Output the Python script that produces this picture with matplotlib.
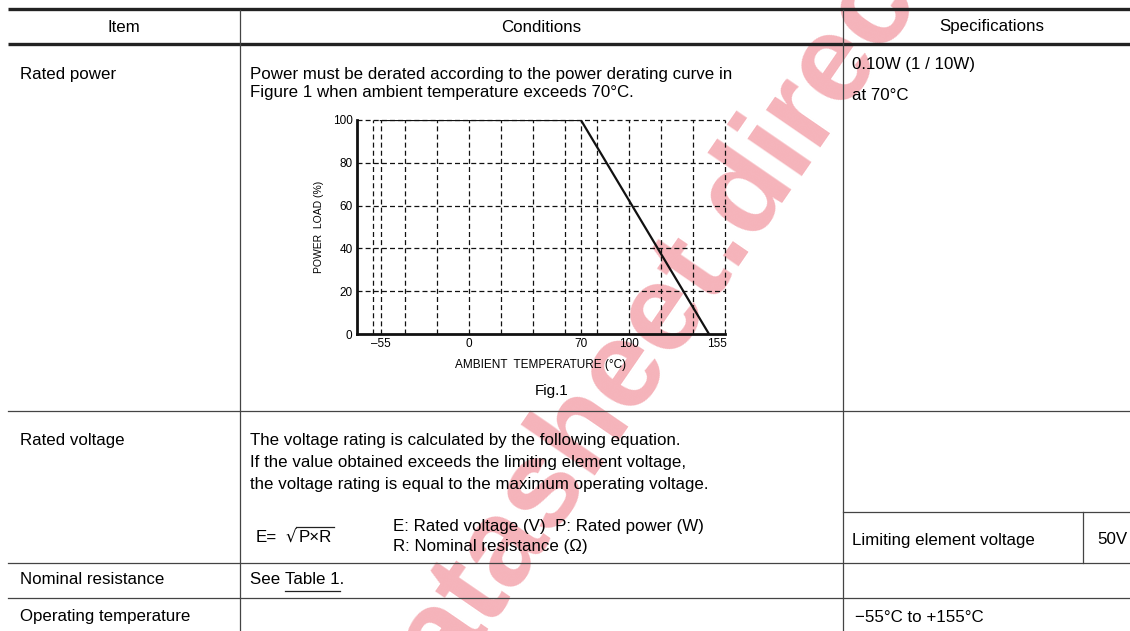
import matplotlib
matplotlib.use("Agg")
import matplotlib.pyplot as plt

plt.rcParams['font.family'] = ['Liberation Sans', 'DejaVu Sans']

# derating curve (Fig.1)
temp = [-55, 70, 150]
load = [100, 100, 0]
x_ticks = [-55, 0, 70, 100, 155]
y_ticks = [0, 20, 40, 60, 80, 100]
x_grid = [-60, -55, -40, -20, 0, 20, 40, 60, 70, 80, 100, 120, 140, 160]

# table text
headers = ["Item", "Conditions", "Specifications"]
items = ["Rated power", "Rated voltage", "Nominal resistance", "Operating temperature"]
power_cond = ["Power must be derated according to the power derating curve in",
              "Figure 1 when ambient temperature exceeds 70\u00b0C."]
power_spec = ["0.10W (1 / 10W)", "at 70\u00b0C"]
volt_cond = ["The voltage rating is calculated by the following equation.",
             "If the value obtained exceeds the limiting element voltage,",
             "the voltage rating is equal to the maximum operating voltage."]
volt_legend = ["E: Rated voltage (V)  P: Rated power (W)",
               "R: Nominal resistance (\u03a9)"]
limit_label = "Limiting element voltage"
limit_value = "50V"
op_temp = "\u221255\u00b0C to +155\u00b0C"

W, H = 1130, 631
fig = plt.figure(figsize=(W / 100, H / 100), dpi=100)

# table drawn in pixel coordinates
tab = fig.add_axes([0, 0, 1, 1])
tab.set_xlim(0, W)
tab.set_ylim(H, 0)
tab.axis('off')
tab.patch.set_alpha(0)
tab.set_zorder(2)

line_c = '#444444'
# thick header rules
tab.plot([8, W], [9, 9], color='#222222', lw=2.4, solid_capstyle='butt')
tab.plot([8, W], [44, 44], color='#222222', lw=2.4, solid_capstyle='butt')
# row rules
for y in [411, 563, 598]:
    tab.plot([8, W], [y, y], color=line_c, lw=0.9)
# column rules
for x in [240, 843]:
    tab.plot([x, x], [10, H], color=line_c, lw=0.9)
# limiting element voltage sub-cell
tab.plot([843, W], [512, 512], color=line_c, lw=0.9)
tab.plot([1083, 1083], [512, 563], color=line_c, lw=0.9)

fs = 12.2
tab.text(124, 27, headers[0], ha='center', va='center', fontsize=fs)
tab.text(541, 27, headers[1], ha='center', va='center', fontsize=fs)
tab.text(992, 27, headers[2], ha='center', va='center', fontsize=fs)

item_y = [75, 440, 580, 616]
for name, y in zip(items, item_y):
    tab.text(20, y, name, ha='left', va='center', fontsize=fs)

for s, y in zip(power_cond, [74, 93]):
    tab.text(250, y, s, ha='left', va='center', fontsize=fs)
for s, y in zip(power_spec, [64, 95]):
    tab.text(852, y, s, ha='left', va='center', fontsize=fs)

for s, y in zip(volt_cond, [440, 462, 484]):
    tab.text(250, y, s, ha='left', va='center', fontsize=fs)
for s, y in zip(volt_legend, [527, 546]):
    tab.text(393, y, s, ha='left', va='center', fontsize=fs)

tab.text(256, 538, "E=", ha='left', va='center', fontsize=fs)
tab.text(285, 538, "\u221a", ha='left', va='center', fontsize=fs, family='DejaVu Sans')
pr = tab.text(299, 538, "P\u00d7R", ha='left', va='center', fontsize=fs)

tab.text(852, 540, limit_label, ha='left', va='center', fontsize=fs)
tab.text(1097, 540, limit_value, ha='left', va='center', fontsize=fs)
tab.text(855, 617, op_temp, ha='left', va='center', fontsize=fs)

see = tab.text(250, 580, "See ", ha='left', va='center', fontsize=fs)
fig.canvas.draw()
r = fig.canvas.get_renderer()
bb = see.get_window_extent(r)
tbl = tab.text(bb.x1, H - 580, "Table 1.", ha='left', va='center', fontsize=fs,
               transform=None)
fig.canvas.draw()
bb2 = tbl.get_window_extent(r)
tab.plot([bb2.x0, bb2.x1 - 4], [H - 591, H - 591], color='#222222', lw=0.9, transform=None)

bb3 = pr.get_window_extent(r)
tab.plot([bb3.x0 - 3, bb3.x1 + 2], [H - 527, H - 527], color='#222222', lw=0.9, transform=None)

# derating chart
ax = fig.add_axes([356.7 / W, 1 - 334 / H, (725 - 356.7) / W, (334 - 120) / H])
ax.set_zorder(3)
ax.patch.set_alpha(0)
ax.set_xlim(-70, 160)
ax.set_ylim(0, 100)
dash = (0, (4, 2.5))
for gx in x_grid:
    ax.axvline(gx, color='#111111', lw=0.9, linestyle=dash, zorder=1, clip_on=False)
for gy in y_ticks[1:]:
    ax.axhline(gy, color='#111111', lw=0.9, linestyle=dash, zorder=1, clip_on=False)
ax.plot(temp, load, color='#111111', lw=1.6, zorder=3)
for side in ['top', 'right']:
    ax.spines[side].set_visible(False)
for side in ['left', 'bottom']:
    ax.spines[side].set_linewidth(2.0)
    ax.spines[side].set_color('#111111')
ax.set_xticks(x_ticks)
ax.set_xticklabels([str(t).replace('-', '\u2013') for t in x_ticks])
ax.set_yticks(y_ticks)
ax.tick_params(length=0, labelsize=8.5, pad=3)
ax.set_xlabel("AMBIENT  TEMPERATURE (\u00b0C)", fontsize=8.5, labelpad=6)
ax.set_ylabel("POWER  LOAD (%)", fontsize=7.5, labelpad=6)
tab.text(552, 391, "Fig.1", ha='center', va='center', fontsize=11)

# watermark
fig.text(648 / W, 1 - 335 / H, "datasheet.direct", rotation=55.5, fontsize=89,
         color='#f29aa3', alpha=0.75, ha='center', va='center', fontweight='bold',
         zorder=1)

fig.savefig("out.png", dpi=100)
